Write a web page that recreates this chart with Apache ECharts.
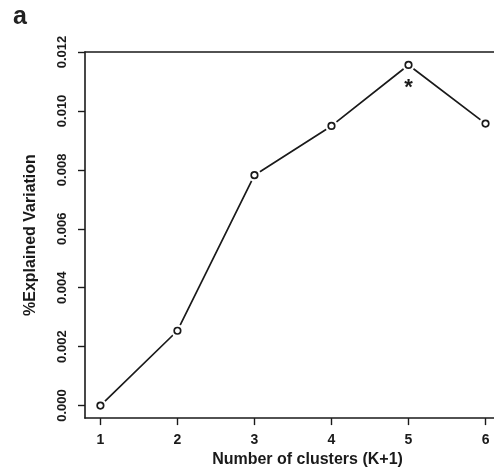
<!DOCTYPE html>
<html>
<head>
<meta charset="utf-8">
<script src="https://cdn.jsdelivr.net/npm/echarts@6/dist/echarts.min.js"></script>
<style>
html,body{margin:0;padding:0;background:#fff;}
#c{width:494px;height:473px;}
</style>
</head>
<body>
<div id="c"></div>
<script>
var clusters = [1, 2, 3, 4, 5, 6];
var explained = [0.0000, 0.00254, 0.00782, 0.00949, 0.01156, 0.00957];
var xTicks = [1, 2, 3, 4, 5, 6];
var yTicks = [0.000, 0.002, 0.004, 0.006, 0.008, 0.010, 0.012];
var starCluster = 5;

var pts = clusters.map(function (c, i) { return [c, explained[i]]; });
var starIdx = clusters.indexOf(starCluster);

var font = 'Liberation Sans, Arial, Helvetica, sans-serif';
var ink = '#1a1a1a';

var chart = echarts.init(document.getElementById('c'), null, {renderer: 'canvas'});
chart.setOption({
  backgroundColor: '#fff',
  animation: false,
  title: {
    text: 'a', left: 8, top: 0,
    textStyle: {fontFamily: font, fontWeight: 'bold', fontSize: 25, color: '#222'}
  },
  grid: {left: 85, top: 52, right: 0, bottom: 50},
  xAxis: [{
    type: 'value', min: 0.8, max: 6.11, position: 'bottom',
    name: 'Number of clusters (K+1)', nameLocation: 'middle', nameGap: 32,
    nameTextStyle: {fontFamily: font, fontWeight: 'bold', fontSize: 16, color: ink, padding: [0, 0, 0, 36]},
    axisLine: {show: true, onZero: false, lineStyle: {color: ink, width: 1.6}},
    axisTick: {show: true, length: 7, customValues: xTicks, lineStyle: {color: ink, width: 1.4}},
    axisLabel: {customValues: xTicks, margin: 15, fontFamily: font, fontWeight: 'bold', fontSize: 14, color: ink},
    splitLine: {show: false}
  }, {
    type: 'value', min: 0.8, max: 6.11, position: 'top',
    axisLine: {show: true, onZero: false, lineStyle: {color: ink, width: 1.6}},
    axisTick: {show: false}, axisLabel: {show: false}, splitLine: {show: false}
  }],
  yAxis: {
    type: 'value', min: -0.000425, max: 0.012,
    name: '%Explained Variation', nameLocation: 'middle', nameGap: 46,
    nameTextStyle: {fontFamily: font, fontWeight: 'bold', fontSize: 16, color: ink},
    axisLine: {show: true, onZero: false, lineStyle: {color: ink, width: 1.6}},
    axisTick: {show: true, length: 7, customValues: yTicks, lineStyle: {color: ink, width: 1.4}},
    axisLabel: {
      customValues: yTicks, rotate: 90, margin: 16,
      fontFamily: font, fontWeight: 'bold', fontSize: 13, color: ink,
      formatter: function (v) { return v.toFixed(3); }
    },
    splitLine: {show: false}
  },
  series: [{
    type: 'line', data: pts, showSymbol: false, symbol: 'none',
    lineStyle: {color: ink, width: 1.7}, z: 2, silent: true
  }, {
    type: 'scatter', data: pts, symbol: 'circle', symbolSize: 13,
    itemStyle: {color: '#fff', opacity: 1}, z: 3, silent: true
  }, {
    type: 'scatter', data: pts, symbol: 'circle', symbolSize: 6.5,
    itemStyle: {color: '#fff', borderColor: ink, borderWidth: 1.7, opacity: 1}, z: 4, silent: true,
    markPoint: {
      symbol: 'circle', symbolSize: 1, itemStyle: {color: 'rgba(0,0,0,0)'},
      label: {show: true, formatter: '*', offset: [0, 23], fontFamily: font, fontWeight: 'bold', fontSize: 22, color: ink},
      data: [{coord: pts[starIdx]}]
    }
  }]
});
</script>
</body>
</html>
